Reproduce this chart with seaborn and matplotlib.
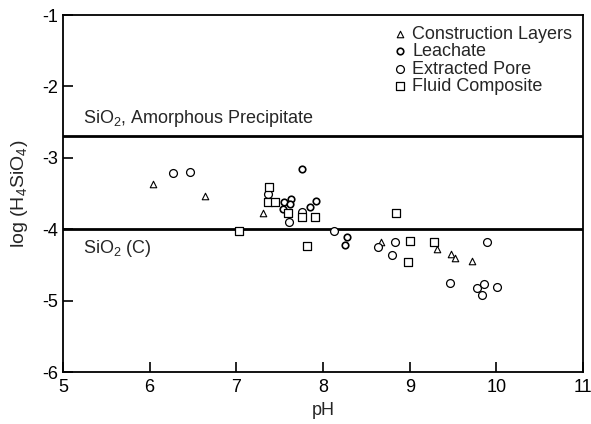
import matplotlib
matplotlib.use("Agg")
import matplotlib.pyplot as plt
import seaborn as sns
import pandas as pd

# Measured silica activity vs pH by sample source
construction_ph = [6.04, 6.64, 7.31, 8.67, 9.31, 9.48, 9.52, 9.72]
construction_log = [-3.37, -3.53, -3.77, -4.18, -4.28, -4.35, -4.40, -4.45]

leachate_ph = [7.55, 7.63, 7.62, 7.54, 7.85, 7.92, 7.76, 8.28, 8.25]
leachate_log = [-3.62, -3.58, -3.64, -3.72, -3.69, -3.60, -3.16, -4.11, -4.22]

pore_ph = [6.27, 6.47, 7.36, 7.61, 7.76, 8.13, 8.63, 8.83, 8.79, 9.89, 9.46,
           9.78, 9.86, 9.83, 10.01]
pore_log = [-3.21, -3.20, -3.51, -3.90, -3.76, -4.02, -4.25, -4.18, -4.36, -4.18,
            -4.75, -4.83, -4.77, -4.92, -4.81]

fluid_ph = [7.03, 7.38, 7.36, 7.45, 7.59, 7.76, 7.91, 7.81, 8.84, 9.00, 8.98, 9.28]
fluid_log = [-4.03, -3.41, -3.62, -3.62, -3.77, -3.83, -3.83, -4.24, -3.77, -4.17,
             -4.46, -4.18]

# Solubility limits
amorphous_log = -2.7
chalcedony_log = -4.0

x_ticks = [5, 6, 7, 8, 9, 10, 11]
y_ticks = [-6, -5, -4, -3, -2, -1]

sns.set_theme(style="ticks")
plt.rcParams["font.family"] = ["Liberation Sans", "DejaVu Sans"]
plt.rcParams["mathtext.fontset"] = "custom"
plt.rcParams["mathtext.rm"] = "Liberation Sans"
plt.rcParams["mathtext.it"] = "Liberation Sans"
plt.rcParams["axes.unicode_minus"] = False

fig = plt.figure(figsize=(5.91, 4.24), dpi=100)
ax = fig.add_axes([0.1066, 0.1226, 0.88, 0.842])

groups = [
    ("Construction Layers", construction_ph, construction_log, "^", 22, 0.8),
    ("Leachate", leachate_ph, leachate_log, "o", 22, 1.2),
    ("Extracted Pore", pore_ph, pore_log, "o", 32, 0.9),
    ("Fluid Composite", fluid_ph, fluid_log, "s", 30, 0.9),
]

ax.axhline(amorphous_log, color="black", lw=2.0, zorder=2)
ax.axhline(chalcedony_log, color="black", lw=2.0, zorder=2)

for name, xs, ys, mk, size, lw in groups:
    df = pd.DataFrame({"pH": xs, "log": ys})
    sns.scatterplot(data=df, x="pH", y="log", marker=mk, s=size, ax=ax,
                    facecolor="white", edgecolor="black", linewidth=lw,
                    label=name, zorder=3)

ax.set_xlim(5, 11)
ax.set_ylim(-6, -1)
ax.set_xticks(x_ticks)
ax.set_yticks(y_ticks)
ax.tick_params(direction="in", length=7, width=1.2, labelsize=13,
               top=False, right=False, colors="black")
ax.tick_params(axis="x", pad=5)
for sp in ax.spines.values():
    sp.set_linewidth(1.3)
    sp.set_color("black")
    sp.set_visible(True)

ax.set_xlabel("pH", fontsize=13, labelpad=4)
ax.set_ylabel(r"log (H$_4$SiO$_4$)", fontsize=14, labelpad=9)

ax.text(5.23, -2.6, r"SiO$_2$, Amorphous Precipitate", fontsize=13,
        ha="left", va="bottom")
ax.text(5.23, -4.12, r"SiO$_2$ (C)", fontsize=13, ha="left", va="top")

leg = ax.legend(loc="upper right", frameon=False, fontsize=13,
                handletextpad=0.2, labelspacing=0.02, borderaxespad=0.2,
                handlelength=1.0, bbox_to_anchor=(1.0, 1.0))

fig.savefig("out.png", dpi=100)
